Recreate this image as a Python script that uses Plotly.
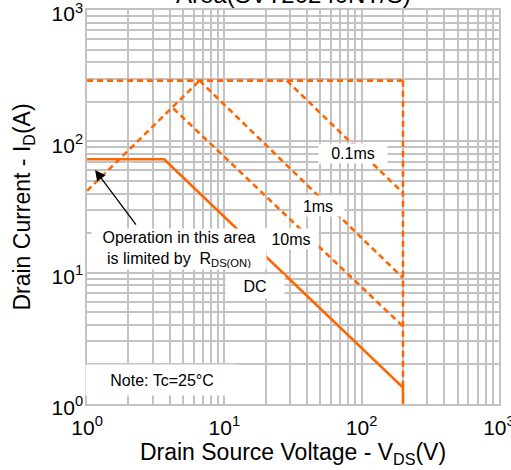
import plotly.graph_objects as go

# ---- data ----
tick_vals = [1, 10, 100, 1000]
tick_text = ["10<sup>0</sup>", "10<sup>1</sup>", "10<sup>2</sup>", "10<sup>3</sup>"]

rds_v = [1, 6.6]
rds_i = [42, 290]
top_v = [1, 200]
top_i = [290, 290]
edge_v = [200, 200]
edge_i = [290, 1.33]
t01_v = [28.5, 200]
t01_i = [290, 40.5]
t1_v = [6.6, 200]
t1_i = [290, 9.1]
t10_v = [4.25, 200]
t10_i = [178, 3.9]
dc_v = [1, 3.64, 200, 200]
dc_i = [73, 73, 1.33, 1]

ORANGE = "#FF6600"
GRID = "#C3C3C3"
FONT = "Liberation Sans, Arial, sans-serif"
DASH = "6px,4px"

fig = go.Figure()
for xs, ys in [(rds_v, rds_i), (top_v, top_i), (edge_v, edge_i),
               (t01_v, t01_i), (t1_v, t1_i), (t10_v, t10_i)]:
    fig.add_trace(go.Scatter(x=xs, y=ys, mode="lines",
                             line=dict(color=ORANGE, width=2.6, dash=DASH),
                             showlegend=False, hoverinfo="skip"))
fig.add_trace(go.Scatter(x=dc_v, y=dc_i, mode="lines",
                         line=dict(color=ORANGE, width=2.6),
                         showlegend=False, hoverinfo="skip"))

axis_common = dict(
    type="log", range=[-0.0005, 3.0005], tickvals=tick_vals, ticktext=tick_text,
    showgrid=True, gridcolor=GRID, gridwidth=1.5,
    showline=True, linecolor=GRID, linewidth=1.5, mirror=True,
    ticks="", zeroline=False, ticklabeloverflow="allow", automargin=False,
    tickfont=dict(family=FONT, size=21, color="black"),
    minor=dict(dtick="D1", showgrid=True, gridcolor=GRID, gridwidth=1.5, ticks=""),
)

fig.update_layout(
    width=511, height=470,
    margin=dict(l=87, r=12, t=10, b=66),
    paper_bgcolor="white", plot_bgcolor="white",
    font=dict(family=FONT, color="black"),
    xaxis=dict(axis_common, ticklabelstandoff=4,
               title=dict(text="Drain Source Voltage - V<sub>DS</sub>(V)",
                          font=dict(family=FONT, size=23), standoff=3)),
    yaxis=dict(axis_common, ticklabelshift=4, ticklabelstandoff=-2,
               title=dict(text="Drain Current - I<sub>D</sub>(A)",
                          font=dict(family=FONT, size=23), standoff=14)),
)

def px2log(px, py):
    return (px - 87) / 137.3, 3 - (py - 10) / 131.3

ann_font = dict(family=FONT, size=16, color="black")
labels = [
    ("0.1ms", 353, 153, 66, 17),
    ("1ms", 318, 206, 50, 18),
    ("10ms", 291, 239, 52, 18),
    ("DC", 255, 286, 56, 21),
    ("Note: Tc=25°C", 162, 380, 150, 28),
]
for text, px, py, w, h in labels:
    x, y = px2log(px, py)
    fig.add_annotation(x=x, y=y, xref="x", yref="y", text=text, showarrow=False,
                       bgcolor="white", width=w, height=h, font=ann_font)

x, y = px2log(179, 249)
fig.add_annotation(x=x, y=y, xref="x", yref="y",
                   text="Operation in this area<br>is limited by  R<sub>DS(ON)</sub>",
                   showarrow=False, bgcolor="white", width=172, height=38, font=ann_font)

hx, hy = px2log(95, 170)
fig.add_annotation(x=hx, y=hy, xref="x", yref="y", ax=42, ay=56, text="",
                   showarrow=True, arrowhead=2, arrowsize=1.6, arrowwidth=1.3,
                   arrowcolor="black")

fig.add_annotation(x=0.5, y=1.0, xref="paper", yref="paper", yshift=0,
                   text="Area(SVT20240NT/S)", showarrow=False, yanchor="bottom",
                   font=dict(family=FONT, size=24, color="black"))

fig.write_html("out.html", config={"displayModeBar": False},
               post_script="document.body.style.margin='0';")
